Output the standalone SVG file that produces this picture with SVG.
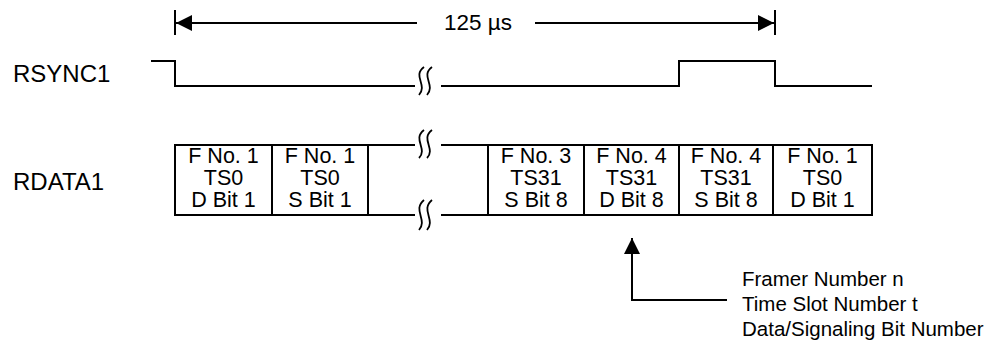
<svg xmlns="http://www.w3.org/2000/svg" width="994" height="341" viewBox="0 0 994 341">
<style>
text{font-family:"Liberation Sans",Arial,sans-serif;fill:#000}
.lbl{font-size:24px}
.box{font-size:21.5px;text-anchor:middle}
.leg{font-size:20.5px}
.ln{fill:none;stroke:#000;stroke-width:2}
.sq{fill:none;stroke:#000;stroke-width:1.8}
</style>
<defs>
<marker id="ah" viewBox="0 0 16 16" refX="16" refY="8" markerWidth="16" markerHeight="16" markerUnits="userSpaceOnUse" orient="auto-start-reverse">
<path d="M0,0 L16,8 L0,16 Z" fill="#000"/>
</marker>
</defs>
<rect width="994" height="341" fill="#fff"/>
<g id="period">
<line class="ln" x1="175" y1="10" x2="175" y2="35"/>
<line class="ln" x1="775" y1="10" x2="775" y2="35"/>
<line class="ln" x1="176" y1="23" x2="417" y2="23" marker-start="url(#ah)"/>
<line class="ln" x1="535" y1="23" x2="774" y2="23" marker-end="url(#ah)"/>
<text x="478" y="30" font-size="22.5" text-anchor="middle">125 µs</text>
</g>
<g id="rsync1">
<text class="lbl" x="13" y="82">RSYNC1</text>
<polyline class="ln" points="151,61 175,61 175,86 415,86"/>
<polyline class="ln" points="441,86 679,86 679,61 775,61 775,86 872,86"/>
<path class="sq" d="M424,67 C412,76 428,85 419,95 M432,67 C420,76 436,85 427,95"/>
</g>
<g id="rdata1">
<text class="lbl" x="13" y="190" font-size="23">RDATA1</text>
<path class="ln" d="M175,145 L415,145 M441,145 L872,145 M175,215 L415,215 M441,215 L872,215"/>
<path class="ln" d="M175,144 V216 M272,145 V215 M368,145 V215 M488,145 V215 M584,145 V215 M679,145 V215 M773,145 V215 M872,144 V216"/>
<path class="sq" d="M424,130 C412,139 428,149 419,158 M432,130 C420,139 436,149 427,158"/>
<path class="sq" d="M424,200 C412,210 428,220 419,230 M432,200 C420,210 436,220 427,230"/>
</g>
<g id="slot1">
<text class="box" x="223.5" y="163">F No. 1</text>
<text class="box" x="223.5" y="185">TS0</text>
<text class="box" x="223.5" y="207">D Bit 1</text>
</g>
<g id="slot2">
<text class="box" x="320" y="163">F No. 1</text>
<text class="box" x="320" y="185">TS0</text>
<text class="box" x="320" y="207">S Bit 1</text>
</g>
<g id="slot3">
<text class="box" x="536" y="163">F No. 3</text>
<text class="box" x="536" y="185">TS31</text>
<text class="box" x="536" y="207">S Bit 8</text>
</g>
<g id="slot4">
<text class="box" x="631.5" y="163">F No. 4</text>
<text class="box" x="631.5" y="185">TS31</text>
<text class="box" x="631.5" y="207">D Bit 8</text>
</g>
<g id="slot5">
<text class="box" x="726" y="163">F No. 4</text>
<text class="box" x="726" y="185">TS31</text>
<text class="box" x="726" y="207">S Bit 8</text>
</g>
<g id="slot6">
<text class="box" x="822.5" y="163">F No. 1</text>
<text class="box" x="822.5" y="185">TS0</text>
<text class="box" x="822.5" y="207">D Bit 1</text>
</g>
<g id="connectors">
<polyline class="ln" points="727,300 632,300 632,238" marker-end="url(#ah)"/>
</g>
<g id="legend">
<text class="leg" x="742" y="286">Framer Number n</text>
<text class="leg" x="742" y="311">Time Slot Number t</text>
<text class="leg" x="742" y="336">Data/Signaling Bit Number</text>
</g>
</svg>
